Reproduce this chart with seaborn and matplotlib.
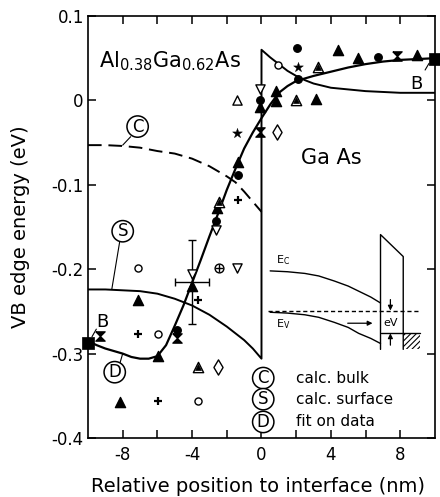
import numpy as np
import pandas as pd
import matplotlib
matplotlib.use("Agg")
import matplotlib.pyplot as plt
import seaborn as sns

# ---------------- data ----------------
# C : calculated bulk (dashed)
c_x = [-10, -9, -8, -7, -6, -5, -4, -3, -2, -1.5, -1, -0.5, 0]
c_y = [-0.053, -0.053, -0.054, -0.056, -0.060, -0.063, -0.069, -0.078, -0.090,
       -0.097, -0.108, -0.120, -0.132]
# S : calculated surface (with jump at interface)
s_x = [-10, -9, -8, -7, -6, -5, -4, -3, -2, -1, -0.5, 0, 0, 0.5, 1, 1.5, 2, 2.5,
       3, 4, 5, 6, 7, 8, 10]
s_y = [-0.224, -0.224, -0.225, -0.226, -0.229, -0.235, -0.243, -0.254, -0.268,
       -0.284, -0.294, -0.306, 0.060, 0.051, 0.043, 0.035, 0.029, 0.024, 0.020,
       0.015, 0.013, 0.011, 0.010, 0.009, 0.009]
# D : fit on data
d_x = [-10, -9.5, -9, -8.5, -8, -7.5, -7, -6.5, -6, -5.5, -5, -4.5, -4, -3.5, -3,
       -2.5, -2, -1.5, -1, -0.5, 0, 0.5, 1, 1.5, 2, 3, 4, 5, 6, 7, 8, 9, 10]
d_y = [-0.285, -0.290, -0.294, -0.297, -0.300, -0.304, -0.306, -0.306, -0.303,
       -0.290, -0.267, -0.243, -0.216, -0.189, -0.161, -0.134, -0.106, -0.081,
       -0.057, -0.038, -0.021, -0.005, 0.009, 0.017, 0.023, 0.029, 0.034, 0.039,
       0.043, 0.046, 0.048, 0.049, 0.050]

# measured points, grouped by symbol
tri_f_x = [4.4, 5.54, 8.97, -0.06, 0.86, 0.86, 3.14, -1.37, -2.57, -7.14, -5.94, -4.0, -8.17]
tri_f_y = [0.060, 0.050, 0.054, -0.008, 0.011, -0.001, 0.002, -0.073, -0.128, -0.237, -0.303, -0.220, -0.357]
circ_f_x = [2.06, 6.69, 2.1, -0.06, -1.34, -2.63, -4.86]
circ_f_y = [0.062, 0.052, 0.025, 0.001, -0.088, -0.143, -0.272]
circ_o_x = [0.97, -7.14, -5.94, -3.66]
circ_o_y = [0.042, -0.199, -0.277, -0.356]
plus_x = [-1.37, -7.14, -3.66, -5.94]
plus_y = [-0.118, -0.277, -0.237, -0.356]
tri_o_x = [-1.43]
tri_o_y = [0.001]
tri_d_x = [-0.06, -2.63, -4.0, -1.43]
tri_d_y = [0.013, -0.153, -0.206, -0.199]
star_x = [2.1, -1.43]
star_y = [0.040, -0.039]
diam_x = [0.91, -2.51]
diam_y = [-0.038, -0.316]
hour_x = [7.83, -9.31, -0.06, -4.86]
hour_y = [0.053, -0.279, -0.037, -0.281]
house_x = [3.26, 2.0, -2.46, -3.66]
house_y = [0.040, 0.001, -0.120, -0.316]
oplus_x = [-2.46]
oplus_y = [-0.199]
bound_x = [-10, 10]
bound_y = [-0.287, 0.049]
err_x, err_y, err_dx, err_dy = -4.0, -0.215, 1.0, 0.05

# schematic band diagram (inset)
ec_x = [0.5, 1.5, 2.5, 3.3, 4.2, 5.0, 5.6, 6.3, 6.86]
ec_y = [-0.202, -0.203, -0.205, -0.208, -0.214, -0.220, -0.226, -0.233, -0.240]
ev_x = [0.5, 1.5, 2.5, 3.3, 4.2, 5.0, 5.6, 6.3, 6.86]
ev_y = [-0.251, -0.252, -0.254, -0.257, -0.263, -0.269, -0.276, -0.282, -0.288]
bar_x = [6.86, 6.86, 8.17, 8.17]
bar_y = [-0.295, -0.159, -0.185, -0.295]
ef_x = [0.4, 9.14]
ef_y = [-0.249, -0.249]
met_x = [6.86, 9.14]
met_y = [-0.276, -0.276]

# ---------------- style ----------------
sns.set_theme(style="ticks")
plt.rcParams['font.family'] = ['DejaVu Sans']
plt.rcParams['mathtext.default'] = 'regular'
plt.rcParams['hatch.linewidth'] = 0.8
plt.rcParams['text.color'] = 'black'
plt.rcParams['axes.labelcolor'] = 'black'
plt.rcParams['xtick.color'] = 'black'
plt.rcParams['ytick.color'] = 'black'
plt.rcParams['axes.edgecolor'] = 'black'

fig = plt.figure(figsize=(4.4, 4.97), dpi=100)
ax = fig.add_axes([0.2, 0.1187, 0.7886, 0.8491])

K = 'black'
# curves
sns.lineplot(x=c_x, y=c_y, ax=ax, color=K, lw=1.4, sort=False, estimator=None,
             dashes=False, linestyle=(0, (7, 3.5)))
sns.lineplot(x=s_x, y=s_y, ax=ax, color=K, lw=1.4, sort=False, estimator=None)
sns.lineplot(x=d_x, y=d_y, ax=ax, color=K, lw=1.6, sort=False, estimator=None)

# markers
hourglass = [(-1, 1), (1, 1), (0, 0), (1, -1), (-1, -1), (0, 0), (-1, 1)]
def sc(x, y, marker, s, face, lw=0.9, z=4):
    sns.scatterplot(x=x, y=y, ax=ax, marker=marker, s=s, color=face,
                    edgecolor=K, linewidth=lw, zorder=z, clip_on=False, legend=False)

sc(tri_f_x, tri_f_y, '^', 55, K)
sc(circ_f_x, circ_f_y, 'o', 30, K)
sc(circ_o_x, circ_o_y, 'o', 26, 'white', 1.0)
sns.scatterplot(x=plus_x, y=plus_y, ax=ax, marker='+', s=40, color=K, linewidth=1.6, zorder=4, legend=False)
sc(tri_o_x, tri_o_y, '^', 44, 'white', 1.0)
sc(tri_d_x, tri_d_y, 'v', 44, 'white', 1.0)
sc(star_x, star_y, '*', 55, K, 0.3)
sc(diam_x, diam_y, 'd', 60, 'white', 1.0)
sc(hour_x, hour_y, hourglass, 45, K)
sc(house_x, house_y, '^', 55, 'white', 1.0)
sc(house_x, house_y, '^', 18, K, 0.5, 5)
sc(oplus_x, oplus_y, 'o', 40, 'white', 1.0)
sns.scatterplot(x=oplus_x, y=oplus_y, ax=ax, marker='+', s=30, color=K, linewidth=1.0, zorder=5, legend=False)
sc(bound_x, bound_y, 's', 75, K, 0.5, 6)

ax.errorbar([err_x], [err_y], xerr=[err_dx], yerr=[err_dy], fmt='none', ecolor=K,
            elinewidth=1.0, capsize=3, capthick=1.0, zorder=3)

# inset band scheme
lw_i = 1.0
ax.plot(ec_x, ec_y, color=K, lw=lw_i)
ax.plot(ev_x, ev_y, color=K, lw=lw_i)
ax.plot(bar_x, bar_y, color=K, lw=lw_i)
ax.plot(ef_x, ef_y, color=K, lw=1.0, linestyle=(0, (3, 2)))
ax.plot(met_x, met_y, color=K, lw=lw_i)
ax.fill_between([8.17, 9.14], [-0.295, -0.295], [-0.276, -0.276], facecolor='white',
                edgecolor=K, hatch='//////', linewidth=0)
arrow = dict(arrowstyle='-|>', color=K, lw=0.9, mutation_scale=7, shrinkA=0, shrinkB=0)
ax.annotate('', xy=(6.4, -0.264), xytext=(4.97, -0.264), arrowprops=arrow)
ax.annotate('', xy=(7.43, -0.249), xytext=(7.43, -0.236), arrowprops=arrow)
ax.annotate('', xy=(7.43, -0.276), xytext=(7.43, -0.290), arrowprops=arrow)
ax.text(1.24, -0.189, r'E$_C$', fontsize=8, ha='center', va='center')
ax.text(1.24, -0.265, r'E$_V$', fontsize=8, ha='center', va='center')
ax.text(7.47, -0.2635, 'eV', fontsize=8, ha='center', va='center')

# labels inside plot
ax.text(-9.35, 0.047, r'Al$_{0.38}$Ga$_{0.62}$As', fontsize=15, ha='left', va='center')
ax.text(2.28, -0.068, 'Ga As', fontsize=15, ha='left', va='center')

def circ(x, y, s):
    ax.text(x, y, s, ha='center', va='center', fontsize=12, zorder=7,
            bbox=dict(boxstyle='circle,pad=0.1', fc='white', ec=K, lw=1.1))

circ(-7.14, -0.031, 'C')
circ(-8.0, -0.155, 'S')
circ(-8.46, -0.322, 'D')
ax.plot([-8.0, -7.54], [-0.053, -0.043], color=K, lw=0.8)
ax.plot([-8.63, -8.17], [-0.224, -0.167], color=K, lw=0.8)
ax.plot([-8.0, -8.17], [-0.300, -0.312], color=K, lw=0.8)
ax.text(-9.2, -0.262, 'B', fontsize=13, ha='center', va='center')
ax.plot([-9.77, -9.52], [-0.280, -0.271], color=K, lw=0.8)
ax.text(8.95, 0.020, 'B', fontsize=13, ha='center', va='center')
ax.plot([9.43, 9.66], [0.036, 0.044], color=K, lw=0.8)

# legend
for yy, lab, txt in [(-0.329, 'C', 'calc. bulk'), (-0.354, 'S', 'calc. surface'),
                     (-0.381, 'D', 'fit on data')]:
    circ(0.1, yy, lab)
    ax.text(2.0, yy, txt, fontsize=11, ha='left', va='center')

# axes
ax.set_xlim(-10, 10)
ax.set_ylim(-0.4, 0.1)
xt = np.arange(-8, 9, 2)
ax.set_xticks(xt)
ax.set_xticklabels(['-8', '', '-4', '', '0', '', '4', '', '8'])
yt = [-0.4, -0.3, -0.2, -0.1, 0, 0.1]
ax.set_yticks(yt)
ax.set_yticklabels(['-0.4', '-0.3', '-0.2', '-0.1', '0', '0.1'])
ax.tick_params(direction='in', top=True, right=True, length=6, width=1.1,
               labelsize=12, colors=K)
ax.tick_params(axis='x', pad=6)
ax.tick_params(axis='y', pad=3)
for sp in ax.spines.values():
    sp.set_linewidth(1.2)
    sp.set_color(K)
ax.set_xlabel('Relative position to interface (nm)', fontsize=14, color=K)
ax.set_ylabel('VB edge energy (eV)', fontsize=14, color=K)
ax.xaxis.set_label_coords(0.49, -0.093)
ax.yaxis.set_label_coords(-0.166, 0.5)

fig.savefig('out.png', dpi=100)
